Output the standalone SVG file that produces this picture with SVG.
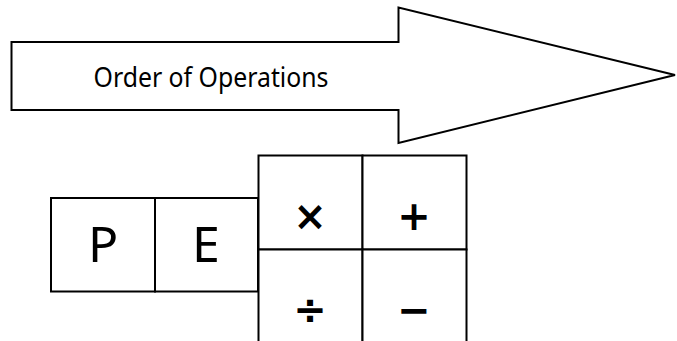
<svg xmlns="http://www.w3.org/2000/svg" width="677" height="341" viewBox="0 0 677 341">
<style>
.s{fill:#fff;stroke:#000;stroke-width:2}
.t{font-family:"Comic Sans MS","Noto Sans",sans-serif;fill:#000;text-anchor:middle}
.op{font-family:"DejaVu Sans",sans-serif;font-weight:bold;fill:#000;text-anchor:middle}
</style>
<rect width="677" height="341" fill="#fff"/>
<g id="arrow">
<path class="s" d="M11.5,42 H398.5 V7.5 L675,75 L398.5,143 V110 H11.5 Z"/>
<text class="t" x="211" y="87" font-size="27" textLength="235" lengthAdjust="spacingAndGlyphs">Order of Operations</text>
</g>
<g id="P">
<rect class="s" x="51" y="198" width="104" height="93.5"/>
<text class="t" x="103" y="262" font-size="50">P</text>
</g>
<g id="E">
<rect class="s" x="155" y="198" width="103" height="93.5"/>
<text class="t" x="206" y="262" font-size="50">E</text>
</g>
<g id="mul">
<rect class="s" x="258.5" y="155.5" width="104" height="94"/>
<text class="op" x="310" y="230" font-size="40">×</text>
</g>
<g id="add">
<rect class="s" x="362.5" y="155.5" width="104" height="94"/>
<text class="op" x="414" y="230" font-size="40">+</text>
</g>
<g id="div">
<rect class="s" x="258.5" y="249.5" width="104" height="100"/>
<text class="op" x="310" y="324" font-size="40">÷</text>
</g>
<g id="sub">
<rect class="s" x="362.5" y="249.5" width="104" height="100"/>
<text class="op" x="414" y="324" font-size="40">−</text>
</g>
<g id="connectors"></g>
</svg>
